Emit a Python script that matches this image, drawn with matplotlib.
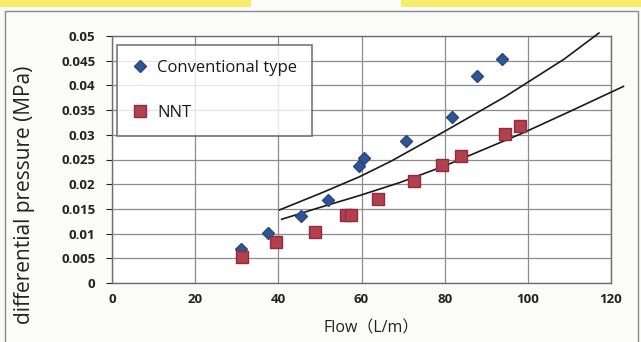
import matplotlib.pyplot as plt
from matplotlib.patches import Rectangle

# data
conv_x = [31.0, 37.6, 45.5, 52.0, 59.3, 60.5, 70.6, 81.7, 87.8, 93.9]
conv_y = [0.0069, 0.0102, 0.0135, 0.0169, 0.0237, 0.0254, 0.0287, 0.0336, 0.0420, 0.0453]
nnt_x = [31.3, 39.5, 48.7, 56.2, 57.5, 63.9, 72.7, 79.3, 84.0, 94.5, 98.1]
nnt_y = [0.0052, 0.0084, 0.0103, 0.0137, 0.0137, 0.0171, 0.0206, 0.0239, 0.0257, 0.0301, 0.0318]

# trend curves
conv_fit_x = [40.3, 50.0, 59.5, 67.2, 80.0, 94.5, 108.7, 117.1]
conv_fit_y = [0.0148, 0.0181, 0.0215, 0.0247, 0.0307, 0.0377, 0.0453, 0.0506]
nnt_fit_x = [40.8, 50.0, 59.5, 69.1, 80.0, 98.9, 110.3, 123.0]
nnt_fit_y = [0.0129, 0.0153, 0.0177, 0.0203, 0.0237, 0.0304, 0.0348, 0.0398]

x_ticks = [0, 20, 40, 60, 80, 100, 120]
y_ticks = [0, 0.005, 0.01, 0.015, 0.02, 0.025, 0.03, 0.035, 0.04, 0.045, 0.05]
y_labels = ['0', '0.005', '0.01', '0.015', '0.02', '0.025', '0.03', '0.035', '0.04', '0.045', '0.05']

plt.rcParams['font.family'] = ['Open Sans', 'Noto Sans CJK JP', 'DejaVu Sans']

fig = plt.figure(figsize=(6.41, 3.42), dpi=100)
fig.patch.set_facecolor('#fbfbfa')

# photo background bits: yellow marker strips and the chart frame
fig.patches.append(Rectangle((0, 1 - 7 / 342), 251 / 641, 7 / 342, transform=fig.transFigure,
                             facecolor='#f4ec6a', edgecolor='none'))
fig.patches.append(Rectangle((401 / 641, 1 - 7 / 342), 240 / 641, 7 / 342, transform=fig.transFigure,
                             facecolor='#f4ec6a', edgecolor='none'))
fig.patches.append(Rectangle((5 / 641, -0.05), 633 / 641, 1.05 - 11 / 342, transform=fig.transFigure,
                             facecolor='none', edgecolor='#8a8a8a', lw=1.0))

ax = fig.add_axes([112 / 641, 1 - 283 / 342, 499 / 641, 247 / 342])
ax.set_facecolor('white')

ax.plot(conv_fit_x, conv_fit_y, color='#1a1a1a', lw=1.2, clip_on=False, zorder=3)
ax.plot(nnt_fit_x, nnt_fit_y, color='#1a1a1a', lw=1.2, clip_on=False, zorder=3)

ax.plot(conv_x, conv_y, linestyle='none', marker='D', ms=6.5, color='#2f5597',
        markeredgecolor='#27477f', label='Conventional type', zorder=4)
ax.plot(nnt_x, nnt_y, linestyle='none', marker='s', ms=8.5, color='#b3404f',
        markeredgecolor='#8e2e3a', label='NNT', zorder=4)

ax.set_xlim(0, 120)
ax.set_ylim(0, 0.05)
ax.set_xticks(x_ticks)
ax.set_yticks(y_ticks)
ax.set_yticklabels(y_labels)
ax.tick_params(axis='both', labelsize=9.5, colors='#222222', length=4, width=0.8)
ax.tick_params(axis='x', pad=7, length=0)
ax.tick_params(axis='y', pad=8)
for lab in ax.get_xticklabels() + ax.get_yticklabels():
    lab.set_fontweight('bold')

ax.grid(True, color='#8c8c8c', lw=0.9)
ax.set_axisbelow(True)
for s in ax.spines.values():
    s.set_color('#6e6e6e')
    s.set_linewidth(1.0)

ax.set_xlabel('Flow（L/m）', fontsize=11.5, color='#222222')
ax.xaxis.set_label_coords(0.52, -0.15)
ax.set_ylabel('differential pressure (MPa)', fontsize=15, color='#222222')
ax.yaxis.set_label_coords(-0.154, 0.356)

leg = ax.legend(loc='upper left', bbox_to_anchor=(0.01, 0.965), fontsize=12, frameon=True,
                fancybox=False, edgecolor='#555555', labelspacing=1.75, handlelength=1.0,
                handletextpad=0.5, borderpad=0.9, borderaxespad=0)
leg.get_frame().set_linewidth(1.2)
for t in leg.get_texts():
    t.set_color('#1a1a1a')

fig.savefig('out.png', dpi=100, facecolor=fig.get_facecolor())
